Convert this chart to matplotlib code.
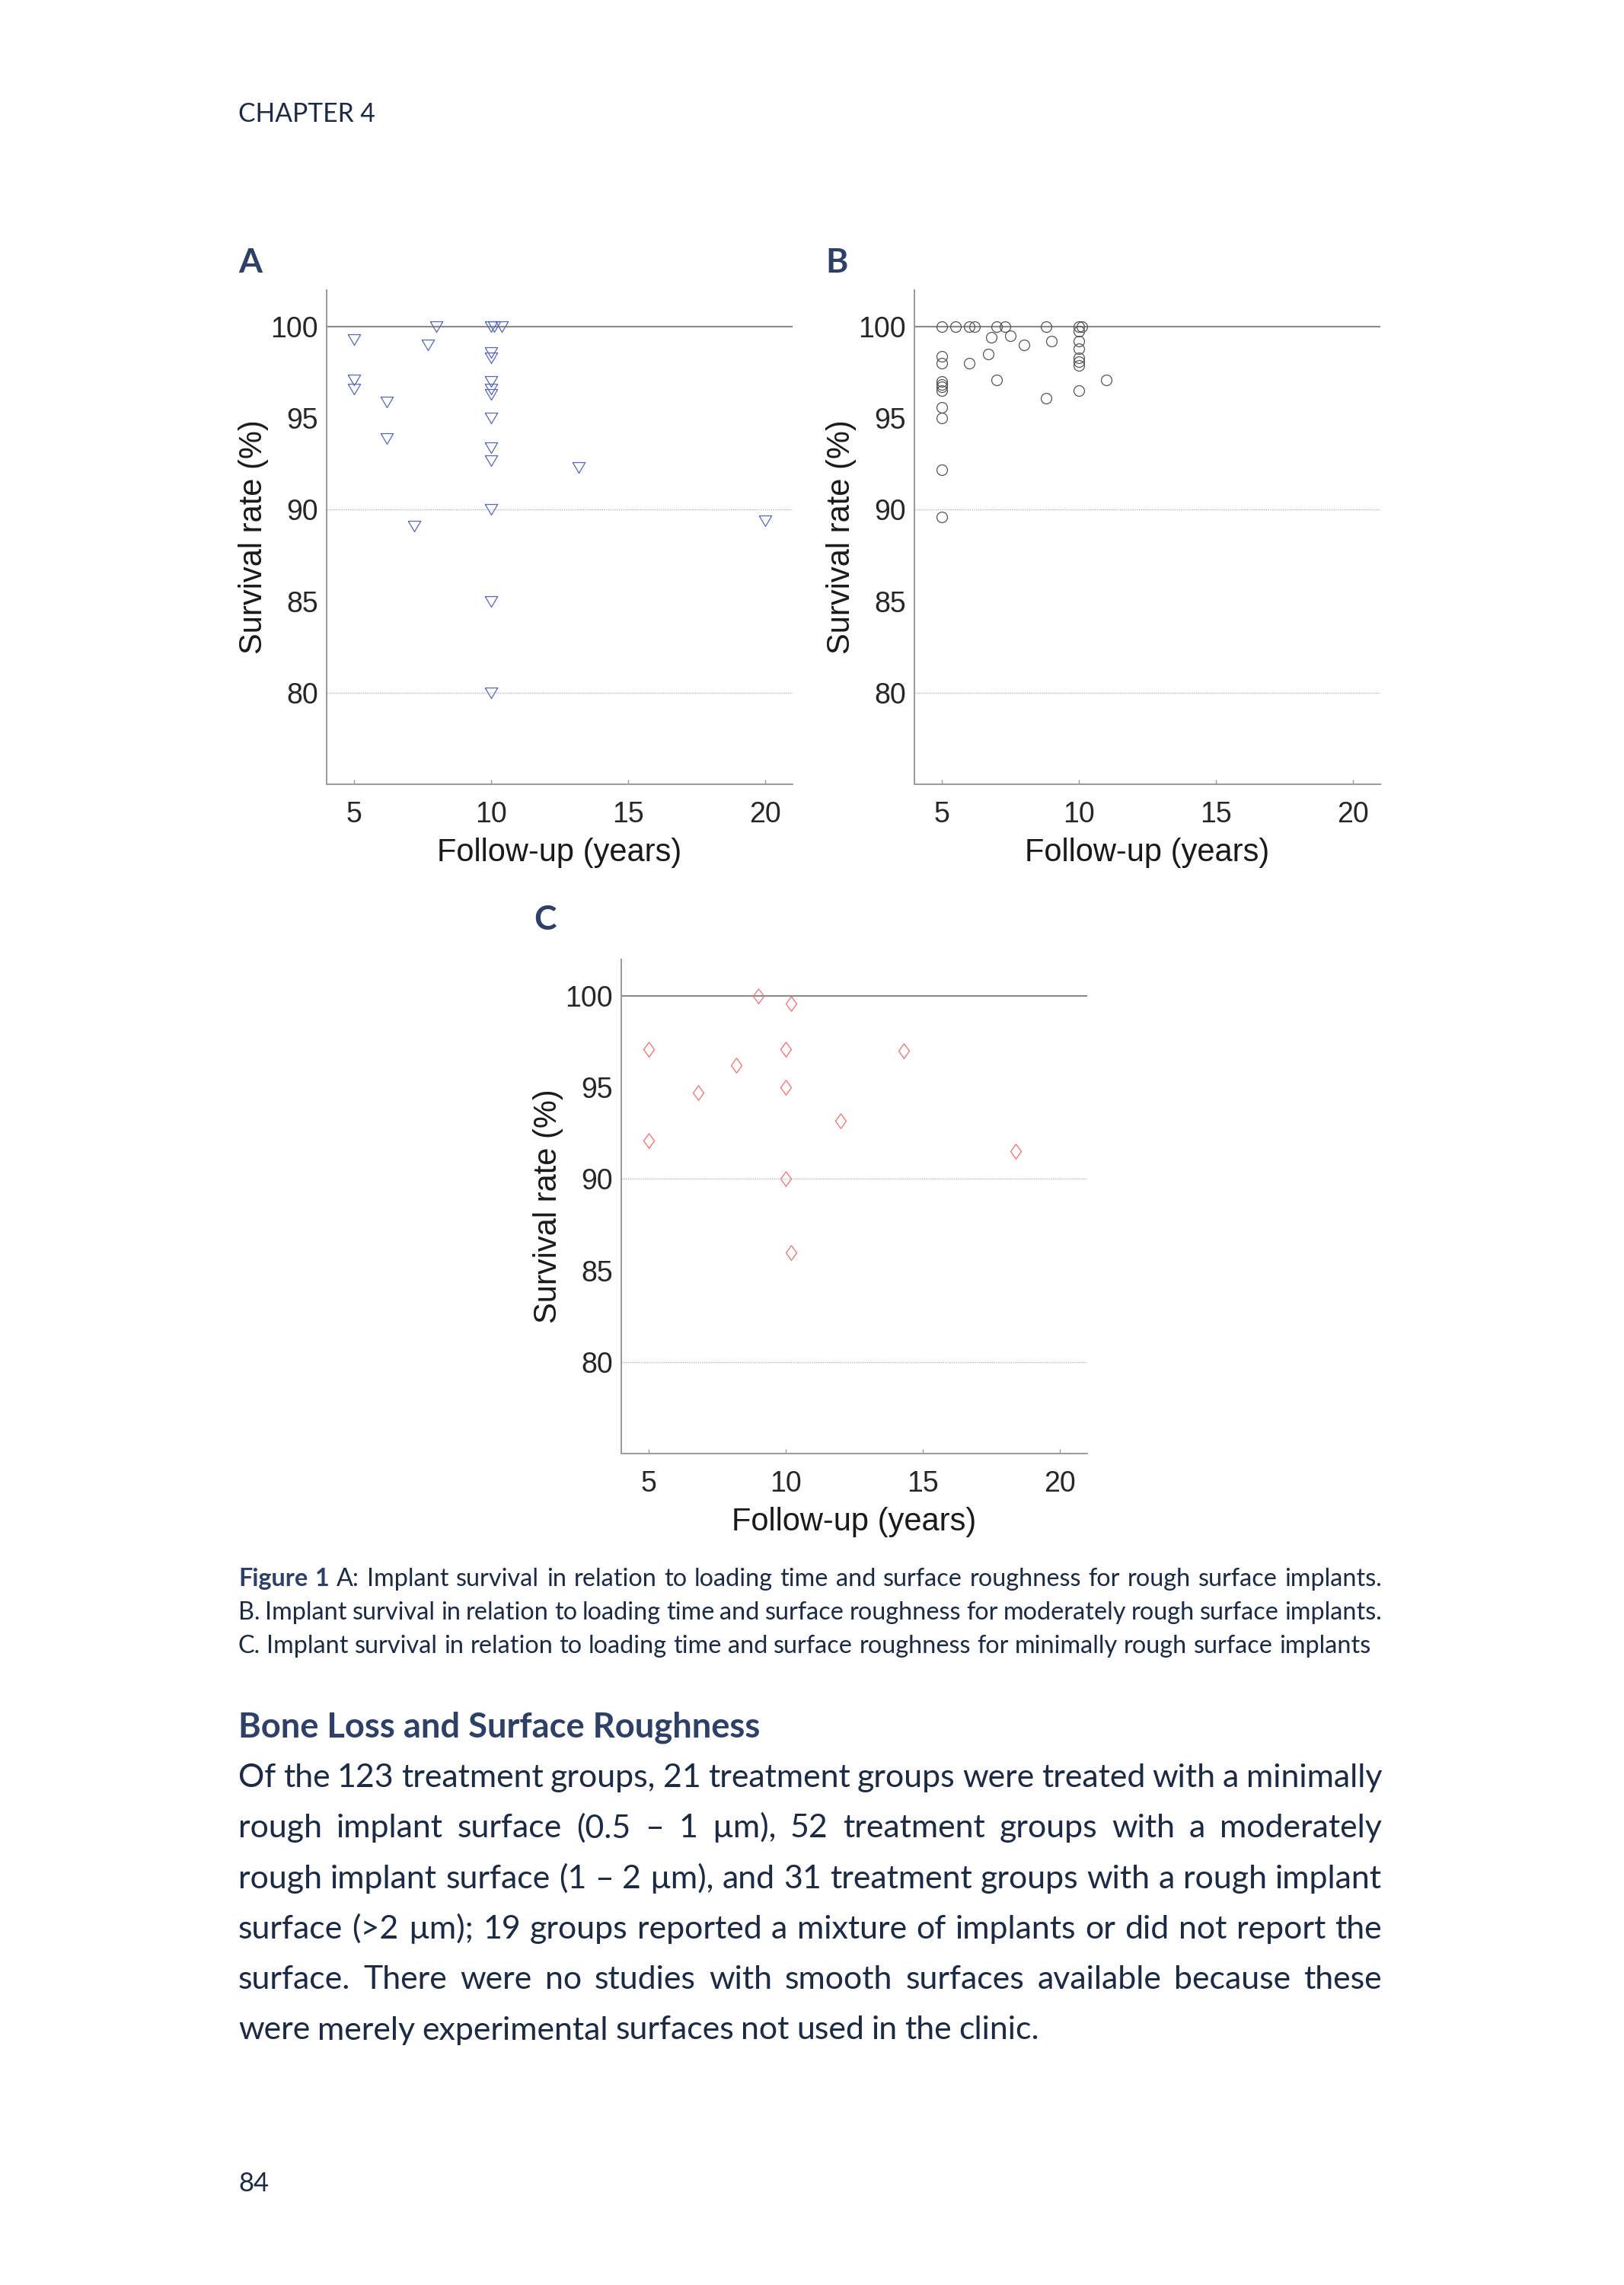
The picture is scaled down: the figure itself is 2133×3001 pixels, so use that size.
import numpy as np
import matplotlib
matplotlib.use("Agg")
import matplotlib.pyplot as plt

# --- data (follow-up years, survival %) ---
a_years = [5, 5, 5, 6.2, 6.2, 7.2, 7.7, 8.0, 10, 10.1, 10.4, 10, 10, 10, 10,
           10, 10, 10, 10, 10, 10, 10, 13.2, 20]
a_surv = [99.3, 97.1, 96.6, 95.9, 93.9, 89.1, 99.0, 100, 100, 100, 100, 98.6,
          98.3, 97.0, 96.6, 96.3, 95.0, 93.4, 92.7, 90.0, 85.0, 80.0, 92.3, 89.4]

b_years = [5, 5, 5, 5, 5, 5, 5, 5, 5, 5, 5,
           5.5, 6.0, 6.2, 6.0, 6.7, 6.8, 7.0, 7.0, 7.3, 7.5, 8.0, 8.8, 8.8, 9.0,
           10, 10, 10, 10, 10, 10, 10, 10, 10.1, 11.0]
b_surv = [100, 98.4, 98.0, 97.0, 96.85, 96.7, 96.5, 95.6, 95.0, 92.2, 89.6,
          100, 100, 100, 98.0, 98.5, 99.4, 100, 97.1, 100, 99.5, 99.0, 100, 96.1, 99.2,
          100, 99.75, 99.2, 98.8, 98.3, 98.1, 97.9, 96.5, 100, 97.1]

c_years = [5, 5, 6.8, 8.2, 9.0, 10.2, 10, 10, 10, 10.2, 12.0, 14.3, 18.4]
c_surv = [97.1, 92.1, 94.7, 96.2, 100, 99.6, 97.1, 95.0, 90.0, 86.0, 93.2, 97.0, 91.5]

x_ticks = [5, 10, 15, 20]
y_ticks = [80, 85, 90, 95, 100]

caption = [
    "Figure 1 A: Implant survival in relation to loading time and surface roughness for rough surface implants.",
    "B. Implant survival in relation to loading time and surface roughness for moderately rough surface implants.",
    "C. Implant survival in relation to loading time and surface roughness for minimally rough surface implants",
]
body = [
    "Of the 123 treatment groups, 21 treatment groups were treated with a minimally",
    "rough implant surface (0.5 \u2013 1 \u00b5m), 52 treatment groups with a moderately",
    "rough implant surface (1 \u2013 2 \u00b5m), and 31 treatment groups with a rough implant",
    "surface (>2 \u00b5m); 19 groups reported a mixture of implants or did not report the",
    "surface. There were no studies with smooth surfaces available because these",
    "were merely experimental surfaces not used in the clinic.",
]

W, H = 2133, 3001
fig = plt.figure(figsize=(W / 100, H / 100), dpi=100)
r = fig.canvas.get_renderer()

PAGE = ["Lato", "DejaVu Sans"]
NAVY = "#1c2a44"
HEAD = "#2e4066"

tri = [(-1, 0.85), (1, 0.85), (0, -0.85), (-1, 0.85)]
dia = [(0, 1), (0.72, 0), (0, -1), (-0.72, 0), (0, 1)]


def panel(left, top, xs, ys, marker, color, ms):
    # left/top in page pixels, axes 612 x 649 px
    ax = fig.add_axes([left / W, 1 - (top + 649) / H, 612 / W, 649 / H])
    ax.axhline(100, color="#8a8a8a", lw=1.5, zorder=1)
    for g in (80, 90):
        ax.axhline(g, color="#b8b8b8", lw=1.0, ls=(0, (1, 1)), zorder=1)
    ax.plot(xs, ys, ls="none", marker=marker, ms=ms, mfc="none", mec=color,
            mew=0.9, zorder=3, clip_on=False)
    ax.set_xlim(4, 21)
    ax.set_ylim(75, 102)
    ax.set_xticks(x_ticks)
    ax.set_yticks(y_ticks)
    for s in ("top", "right"):
        ax.spines[s].set_visible(False)
    for s in ("left", "bottom"):
        ax.spines[s].set_color("#9a9a9a")
        ax.spines[s].set_linewidth(1.4)
    ax.tick_params(direction="in", length=4.3, width=1, color="#9a9a9a",
                   labelsize=27, labelcolor="#262626")
    ax.tick_params(axis="y", length=0, pad=8)
    ax.tick_params(axis="x", pad=16)
    for lab in ax.get_xticklabels() + ax.get_yticklabels():
        lab.set_family("Liberation Sans")
    ax.set_xlabel("Follow-up (years)", fontsize=30, color="#1a1a1a",
                  family="Liberation Sans")
    ax.xaxis.set_label_coords(0.5, -(1131 - 1030) / 649)
    ax.xaxis.label.set_va("baseline")
    ax.set_ylabel("Survival rate (%)", fontsize=30, color="#1a1a1a",
                  family="Liberation Sans")
    ax.yaxis.set_label_coords(-(429 - 344) / 612, 0.5)
    ax.yaxis.label.set_va("baseline")
    return ax


panel(429, 381, a_years, a_surv, tri, "#5468b8", 11.8)
panel(1201, 381, b_years, b_surv, "o", "#555555", 10)
panel(816, 1260, c_years, c_surv, dia, "#ef6f6f", 14)


def ptext(x, y, s, **kw):
    kw.setdefault("family", PAGE)
    kw.setdefault("color", NAVY)
    return fig.text(x / W, 1 - y / H, s, ha="left", va="baseline", **kw)


def fit_text(x, y, s, width, size, **kw):
    t = ptext(x, y, s, fontsize=size, **kw)
    w = t.get_window_extent(r).width
    t.set_fontsize(size * width / w)
    return t


def measure(words, size, weights):
    out = []
    for w, wt in zip(words, weights):
        t = ptext(0, 0, w, fontsize=size, fontweight=wt)
        out.append(t.get_window_extent(r).width)
        t.remove()
    return out


def block(lines, x0, rights, size, bold_first=0):
    # shrink the size until every line fits with some space between words
    ratio = 1.0
    for i, (line, x1) in enumerate(zip(lines, rights)):
        words = line.split()
        nb = bold_first if i == 0 else 0
        wts = ["bold" if k < nb else "normal" for k in range(len(words))]
        ws = measure(words, size, wts)
        need = sum(ws) + (len(words) - 1) * 0.22 * size * 100 / 72
        ratio = min(ratio, (x1 - x0) / need)
    return size * ratio


def draw_block(lines, x0, rights, y0, step, size, bold_first=0, last_free=False):
    for i, (line, x1) in enumerate(zip(lines, rights)):
        words = line.split()
        nb = bold_first if i == 0 else 0
        wts = ["bold" if k < nb else "normal" for k in range(len(words))]
        ts = [ptext(0, y0 + i * step, w, fontsize=size, fontweight=wt,
                    color=HEAD if wt == "bold" else NAVY)
              for w, wt in zip(words, wts)]
        ws = [t.get_window_extent(r).width for t in ts]
        if last_free and i == len(lines) - 1:
            gap = 0.22 * size * 100 / 72
        else:
            gap = (x1 - x0 - sum(ws)) / (len(ws) - 1)
        x = x0
        for t, w in zip(ts, ws):
            t.set_x(x / W)
            x += w + gap


# page furniture
fit_text(313, 160, "CHAPTER 4", 179, 27)
ptext(313, 2878, "84", fontsize=25)
for lab, x, y in (("A", 313, 358), ("B", 1084, 358), ("C", 701, 1221)):
    ptext(x, y, lab, fontsize=32, fontweight="bold", color=HEAD)

# caption
cap_r = [1815, 1815, 1800]
cs = block(caption, 313, cap_r, 24, bold_first=2)
draw_block(caption, 313, cap_r, 2083, 44, cs, bold_first=2)

# section heading and body
fit_text(313, 2282, "Bone Loss and Surface Roughness", 687, 34,
         fontweight="bold", color=HEAD)
body_r = [1815] * 5 + [1385]
bs = block(body, 313, body_r, 31)
draw_block(body, 313, body_r, 2347, 66.3, bs, last_free=True)

fig.savefig("out.png", dpi=100, facecolor="white")
